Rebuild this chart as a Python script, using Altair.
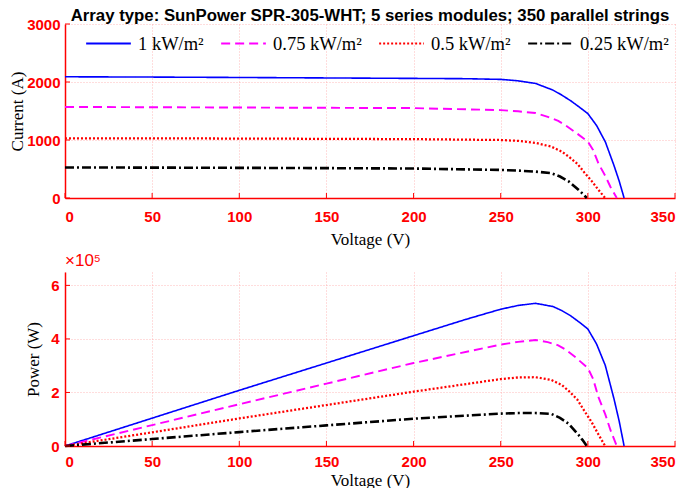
import altair as alt
import pandas as pd

# ---------------- data ----------------
title_text = "Array type: SunPower SPR-305-WHT; 5 series modules; 350 parallel strings"
series = ["1 kW/m²", "0.75 kW/m²", "0.5 kW/m²", "0.25 kW/m²"]
colors = ["#0000ff", "#ff00ff", "#ff0000", "#000000"]

# 1 kW/m2
v1 = [0, 50, 100, 150, 200, 230, 250, 260, 270, 280, 285, 290, 295, 300, 305, 310, 315, 318, 320.8]
i1 = [2090, 2085, 2078, 2070, 2062, 2057, 2045, 2020, 1975, 1860, 1775, 1680, 1570, 1455, 1250, 970, 560, 290, 0]
p1 = [0, 1.04, 2.08, 3.10, 4.12, 4.73, 5.11, 5.25, 5.33, 5.21, 5.06, 4.87, 4.63, 4.37, 3.81, 3.01, 1.76, 0.92, 0]

# 0.75 kW/m2
v2 = [0, 50, 100, 150, 200, 250, 260, 270, 277, 283, 287, 293, 300, 303, 306, 310, 313, 316.6]
i2 = [1570, 1565, 1560, 1555, 1550, 1515, 1495, 1465, 1400, 1330, 1257, 1130, 970, 830, 600, 380, 190, 0]
p2 = [0, 0.78, 1.56, 2.33, 3.10, 3.79, 3.89, 3.96, 3.88, 3.76, 3.61, 3.31, 2.91, 2.51, 1.84, 1.18, 0.59, 0]

# 0.5 kW/m2
v3 = [0, 50, 100, 150, 200, 250, 260, 270, 279, 285, 289, 294, 298, 302, 306, 309.9]
i3 = [1030, 1028, 1025, 1020, 1015, 1000, 985, 950, 886, 800, 714, 590, 440, 300, 143, 0]
p3 = [0, 0.51, 1.03, 1.53, 2.03, 2.50, 2.56, 2.57, 2.47, 2.28, 2.06, 1.73, 1.31, 0.91, 0.44, 0]

# 0.25 kW/m2
v4 = [0, 50, 100, 150, 200, 250, 260, 270, 279, 284, 289, 294.6, 297, 299.4]
i4 = [526, 524, 520, 515, 508, 484, 472, 455, 429, 370, 286, 143, 75, 0]
p4 = [0, 0.26, 0.52, 0.77, 1.02, 1.21, 1.23, 1.23, 1.20, 1.05, 0.83, 0.42, 0.22, 0]

x_ticks = [0, 50, 100, 150, 200, 250, 300, 350]
i_ticks = [0, 1000, 2000, 3000]
p_ticks = [0, 2, 4, 6]

# ---------------- tables ----------------
rows = []
for name, vs, iss, ps in zip(series, [v1, v2, v3, v4], [i1, i2, i3, i4], [p1, p2, p3, p4]):
    for k, (v, i, p) in enumerate(zip(vs, iss, ps)):
        rows.append({"series": name, "V": v, "I": i, "P": p, "k": k})
df = pd.DataFrame(rows)

xt = pd.DataFrame({"t": x_ticks})
it = pd.DataFrame({"t": i_ticks})
pt = pd.DataFrame({"t": p_ticks})

W = 610
H1, H2 = 174, 174
RED = "#ff0000"

xscale = alt.Scale(domain=[0, 350], nice=False, zero=False)
iscale = alt.Scale(domain=[0, 3000], nice=False)
pscale = alt.Scale(domain=[0, 6.5], nice=False)

color_scale = alt.Scale(domain=series, range=colors)
dash_scale = alt.Scale(domain=series, range=[[1, 0], [9, 5], [2, 2], [9, 3, 2, 3]])
width_scale = alt.Scale(domain=series, range=[1.6, 2.6, 1.8, 2.2])

legend = alt.Legend(
    title=None, orient="none", direction="horizontal", columns=4,
    legendX=20, legendY=-4, symbolType="stroke", symbolSize=2000,
    symbolStrokeWidth=2, labelFont="Liberation Serif", labelFontSize=18.5,
    labelColor="#000000", columnPadding=13, labelOffset=6, padding=0,
)

top_lines = alt.Chart(df).mark_line().encode(
    x=alt.X("V:Q", scale=xscale,
            axis=alt.Axis(values=x_ticks, title="Voltage (V)", ticks=False, format="d",
                          labelPadding=11, titlePadding=7)),
    y=alt.Y("I:Q", scale=iscale, axis=alt.Axis(values=i_ticks, title="Current (A)", ticks=False,
                                               format="d", titlePadding=0, labelPadding=5)),
    color=alt.Color("series:N", scale=color_scale, sort=series, legend=legend),
    strokeDash=alt.StrokeDash("series:N", scale=dash_scale, sort=series, legend=legend),
    strokeWidth=alt.StrokeWidth("series:N", scale=width_scale, sort=series, legend=None),
    order="k:Q",
)

top_xt = alt.Chart(xt).mark_rule(color=RED, strokeWidth=1).encode(
    x=alt.X("t:Q", scale=xscale), y=alt.value(H1), y2=alt.value(H1 - 5))
top_yt = alt.Chart(it).mark_rule(color=RED, strokeWidth=1).encode(
    y=alt.Y("t:Q", scale=iscale), x=alt.value(0), x2=alt.value(5))
head = alt.Chart(pd.DataFrame({"s": [title_text]})).mark_text(
    font="Liberation Sans", fontSize=16.8, fontWeight="bold", color="#000000",
    align="center", baseline="alphabetic"
).encode(text="s:N", x=alt.value(W / 2), y=alt.value(-3))

top = alt.layer(top_lines, top_xt, top_yt, head).properties(width=W, height=H1)

bot_lines = alt.Chart(df).mark_line().encode(
    x=alt.X("V:Q", scale=xscale,
            axis=alt.Axis(values=x_ticks, title="Voltage (V)", ticks=False, format="d",
                          labelPadding=8, titlePadding=3)),
    y=alt.Y("P:Q", scale=pscale, axis=alt.Axis(values=p_ticks, title="Power (W)", ticks=False,
                                               format="d", titlePadding=8, labelPadding=6)),
    color=alt.Color("series:N", scale=color_scale, sort=series, legend=None),
    strokeDash=alt.StrokeDash("series:N", scale=dash_scale, sort=series, legend=None),
    strokeWidth=alt.StrokeWidth("series:N", scale=width_scale, sort=series, legend=None),
    order="k:Q",
)
bot_xt = alt.Chart(xt).mark_rule(color=RED, strokeWidth=1).encode(
    x=alt.X("t:Q", scale=xscale), y=alt.value(H2), y2=alt.value(H2 - 5))
bot_yt = alt.Chart(pt).mark_rule(color=RED, strokeWidth=1).encode(
    y=alt.Y("t:Q", scale=pscale), x=alt.value(0), x2=alt.value(5))
expo = alt.Chart(pd.DataFrame({"s": ["×10⁵"]})).mark_text(
    color=RED, font="Liberation Sans", fontSize=17, align="left", baseline="bottom"
).encode(text="s:N", x=alt.value(0), y=alt.value(-2))

bot = alt.layer(bot_lines, bot_xt, bot_yt, expo).properties(width=W, height=H2)

chart = alt.vconcat(top, bot, spacing=5).resolve_legend(
    color="independent", strokeDash="independent"
).properties(
    padding={"left": 0, "top": 0, "right": 0, "bottom": 0},
).configure_view(stroke=None).configure_axis(
    domainColor=RED, domainWidth=1.5, labelColor=RED, labelFont="Liberation Sans",
    labelFontSize=15, labelFontWeight="bold",
    titleFont="Liberation Serif", titleFontSize=17, titleFontWeight="normal",
    titleColor="#000000", gridColor="#ff9c9c", gridDash=[1, 2], gridOpacity=0.7,
    gridWidth=1,
)

chart.save("out.html", embed_options={"renderer": "svg", "actions": False})
